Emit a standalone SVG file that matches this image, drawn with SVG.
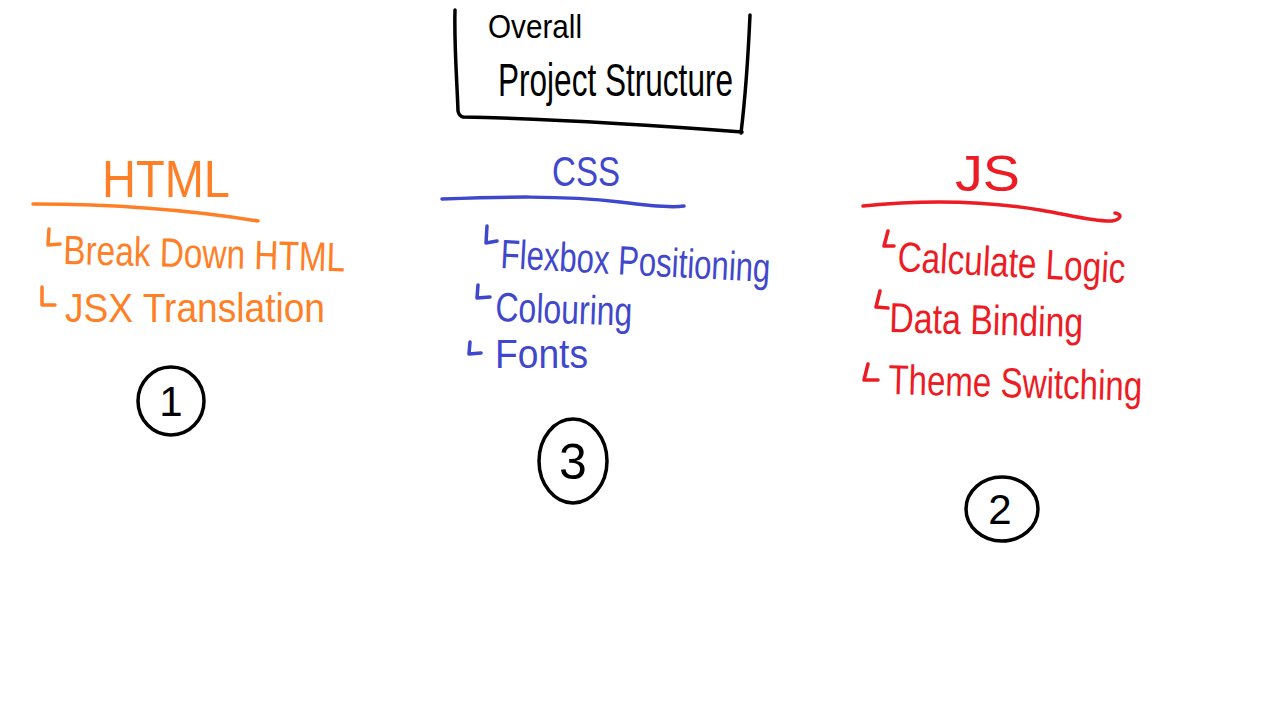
<svg xmlns="http://www.w3.org/2000/svg" width="1282" height="717" viewBox="0 0 1282 717">
<style>
text{font-family:"Liberation Sans","DejaVu Sans",sans-serif;}
.stroke{fill:none;stroke-width:3.5;stroke-linecap:round;stroke-linejoin:round;}
.k{stroke:#000;} .kt{fill:#000;}
.o{stroke:#FF7F27;} .ot{fill:#FF7F27;}
.b{stroke:#3F48CC;} .bt{fill:#3F48CC;}
.r{stroke:#ED1C24;} .rt{fill:#ED1C24;}
</style>
<rect width="1282" height="717" fill="#fff"/>
<g id="connectors"/>
<g id="title">
  <path class="stroke k" d="M455,10 C454,45 457,80 458,111 Q459,116 463,117 C560,119 650,125 742,132 M750,15 C748,60 745,100 741,133"/>
  <text class="kt" x="488" y="38" font-size="34" textLength="94" lengthAdjust="spacingAndGlyphs">Overall</text>
  <text class="kt" x="498" y="96" font-size="46" textLength="235" lengthAdjust="spacingAndGlyphs">Project Structure</text>
</g>
<g id="html">
  <text class="ot" x="102" y="197" font-size="51" textLength="128" lengthAdjust="spacingAndGlyphs">HTML</text>
  <path class="stroke o" d="M33,204 C110,204 190,210 258,221"/>
  <path class="stroke o" d="M49,229 L48,245 L60,244 M42,287 L42,305 L55,305"/>
  <text class="ot" x="63" y="264" font-size="41" textLength="282" lengthAdjust="spacingAndGlyphs" transform="rotate(1.5 63 264)">Break Down HTML</text>
  <text class="ot" x="65" y="322" font-size="41" textLength="260" lengthAdjust="spacingAndGlyphs">JSX Translation</text>
</g>
<g id="css">
  <text class="bt" x="552" y="186" font-size="42" textLength="68" lengthAdjust="spacingAndGlyphs">CSS</text>
  <path class="stroke b" d="M442,199 C500,197 560,195 620,202 C650,206 670,208 684,206"/>
  <path class="stroke b" d="M487,226 L486,243 L497,241 M478,285 L477,298 L490,297 M470,342 L469,354 L481,353"/>
  <text class="bt" x="500" y="268" font-size="41" textLength="270" lengthAdjust="spacingAndGlyphs" transform="rotate(3 500 268)">Flexbox Positioning</text>
  <text class="bt" x="495" y="321" font-size="41" textLength="137" lengthAdjust="spacingAndGlyphs" transform="rotate(2 495 321)">Colouring</text>
  <text class="bt" x="495" y="368" font-size="41" textLength="93" lengthAdjust="spacingAndGlyphs">Fonts</text>
</g>
<g id="js">
  <text class="rt" x="955" y="191" font-size="50" textLength="65" lengthAdjust="spacingAndGlyphs">JS</text>
  <path class="stroke r" d="M863,206 C920,200 980,200 1040,210 C1070,215 1095,222 1112,221 C1122,219 1122,214 1115,213"/>
  <path class="stroke r" d="M888,231 L884,246 L894,246 M880,291 L876,307 L888,308 M868,364 L864,380 L878,380"/>
  <text class="rt" x="897" y="271" font-size="42" textLength="228" lengthAdjust="spacingAndGlyphs" transform="rotate(3 897 271)">Calculate Logic</text>
  <text class="rt" x="889" y="332" font-size="42" textLength="194" lengthAdjust="spacingAndGlyphs" transform="rotate(1.5 889 332)">Data Binding</text>
  <text class="rt" x="888" y="394" font-size="42" textLength="254" lengthAdjust="spacingAndGlyphs" transform="rotate(1.5 888 394)">Theme Switching</text>
</g>
<g id="step1">
  <ellipse class="stroke k" cx="171" cy="401" rx="33" ry="34"/>
  <text class="kt" x="171" y="416" font-size="42" text-anchor="middle">1</text>
</g>
<g id="step3">
  <ellipse class="stroke k" cx="573" cy="461" rx="34" ry="42"/>
  <text class="kt" x="573" y="479" font-size="50" text-anchor="middle">3</text>
</g>
<g id="step2">
  <ellipse class="stroke k" cx="1002" cy="509" rx="36" ry="32"/>
  <text class="kt" x="1000" y="524" font-size="42" text-anchor="middle">2</text>
</g>
</svg>
